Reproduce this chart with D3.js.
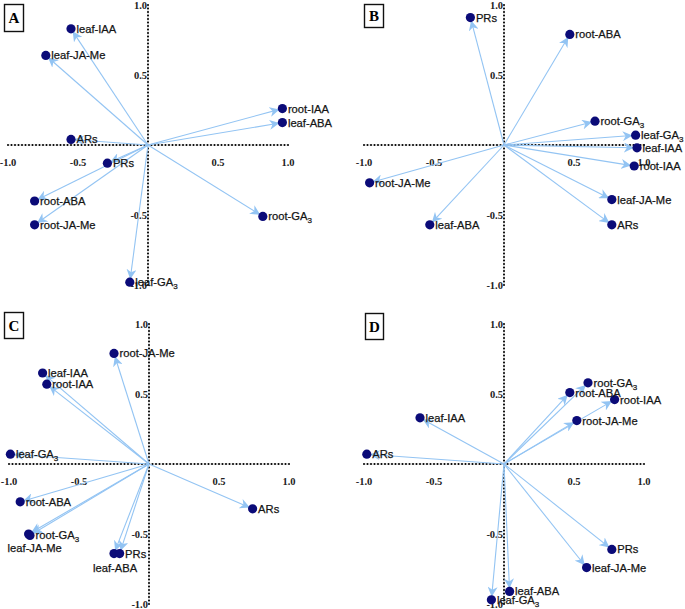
<!DOCTYPE html>
<html>
  <head>
    <style>
    body {
      margin: 0;
      background: #fff;
    }
    .lbl {
      font-family: "Liberation Sans", Arial, sans-serif;
      font-size: 11.2px;
      fill: #151515;
      stroke: #151515;
      stroke-width: 0.25px;
    }
    .tick {
      font-family: "Liberation Serif", "Times New Roman", serif;
      font-weight: bold;
      font-size: 10.5px;
      fill: #222;
    }
    </style>
  </head>
  <body>
    <script src="https://d3js.org/d3.v7.min.js"></script>
    <script>
    var width = 685, height = 609;

    // variable names in each panel
    var namesA = ["leaf-IAA", "leaf-JA-Me", "root-IAA", "leaf-ABA", "ARs", "PRs", "root-ABA", "root-JA-Me", "root-GA3", "leaf-GA3"];
    var xA = [-0.55, -0.73, 0.96, 0.96, -0.55, -0.29, -0.81, -0.81, 0.82, -0.13];
    var yA = [0.83, 0.64, 0.26, 0.16, 0.04, -0.13, -0.40, -0.57, -0.51, -0.98];

    var namesB = ["PRs", "root-ABA", "root-GA3", "leaf-GA3", "leaf-IAA", "root-IAA", "leaf-JA-Me", "ARs", "root-JA-Me", "leaf-ABA"];
    var xB = [-0.24, 0.47, 0.65, 0.94, 0.95, 0.93, 0.77, 0.77, -0.96, -0.53];
    var yB = [0.91, 0.79, 0.17, 0.07, -0.02, -0.15, -0.39, -0.57, -0.27, -0.57];

    var namesC = ["root-JA-Me", "leaf-IAA", "root-IAA", "leaf-GA3", "root-ABA", "leaf-JA-Me", "root-GA3", "leaf-ABA", "PRs", "ARs"];
    var xC = [-0.25, -0.76, -0.73, -0.99, -0.92, -0.86, -0.85, -0.25, -0.21, 0.74];
    var yC = [0.79, 0.65, 0.57, 0.07, -0.27, -0.50, -0.51, -0.64, -0.64, -0.32];

    var namesD = ["root-GA3", "root-ABA", "root-IAA", "root-JA-Me", "leaf-IAA", "ARs", "PRs", "leaf-JA-Me", "leaf-ABA", "leaf-GA3"];
    var xD = [0.60, 0.47, 0.79, 0.52, -0.60, -0.98, 0.77, 0.59, 0.04, -0.09];
    var yD = [0.58, 0.51, 0.46, 0.31, 0.33, 0.07, -0.61, -0.74, -0.91, -0.97];

    var tickValues = [-1.0, -0.5, 0.5, 1.0];
    var tickLabels = ["-1.0", "-0.5", "0.5", "1.0"];

    // labels written under the point instead of to its right
    var belowLabels = {C: ["leaf-JA-Me", "leaf-ABA"]};

    var svg = d3.select("body").append("svg")
        .attr("width", width)
        .attr("height", height);

    svg.append("defs").append("marker")
        .attr("id", "head")
        .attr("viewBox", "0 0 10 10")
        .attr("refX", 9)
        .attr("refY", 5)
        .attr("markerWidth", 10)
        .attr("markerHeight", 10)
        .attr("markerUnits", "userSpaceOnUse")
        .attr("orient", "auto")
      .append("path")
        .attr("d", "M0,0 L10,5 L0,10 L3,5 Z")
        .attr("fill", "#93c4f3");

    drawPanel("A", 148, 145, [4, 4, 19, 27], namesA, xA, yA);
    drawPanel("B", 504, 145, [364, 4, 19, 23], namesB, xB, yB);
    drawPanel("C", 149, 464, [4, 312, 19, 26], namesC, xC, yC);
    drawPanel("D", 504, 464, [365, 313, 18, 26], namesD, xD, yD);

    function drawPanel(letter, cx, cy, box, names, xs, ys){
      var x = d3.scaleLinear().domain([-1, 1]).range([cx - 140, cx + 140]);
      var y = d3.scaleLinear().domain([-1, 1]).range([cy + 140, cy - 140]);
      var g = svg.append("g");

      // letter box
      g.append("rect")
          .attr("x", box[0] + 0.5).attr("y", box[1] + 0.5)
          .attr("width", box[2]).attr("height", box[3])
          .attr("fill", "#fff").attr("stroke", "#111").attr("stroke-width", 1.4);
      g.append("text")
          .attr("x", box[0] + box[2] / 2 + 0.5)
          .attr("y", box[1] + box[3] / 2 + 5.5)
          .attr("text-anchor", "middle")
          .style("font-family", "'Liberation Serif', serif")
          .style("font-weight", "bold")
          .style("font-size", "15px")
          .text(letter);

      // axes: faint line with dense black ticks
      var minor = d3.range(-1, 1.0001, 0.025);
      g.append("line")
          .attr("x1", x(-1)).attr("x2", x(1))
          .attr("y1", y(0)).attr("y2", y(0))
          .attr("stroke", "#bbb").attr("stroke-width", 0.8);
      g.append("line")
          .attr("x1", x(0)).attr("x2", x(0))
          .attr("y1", y(-1)).attr("y2", y(1))
          .attr("stroke", "#bbb").attr("stroke-width", 0.8);
      g.selectAll(".hx").data(minor).enter().append("rect")
          .attr("x", function(d){ return x(d) - 0.8; })
          .attr("y", y(0) - 1)
          .attr("width", 1.6).attr("height", 2)
          .attr("fill", "#111");
      g.selectAll(".vy").data(minor).enter().append("rect")
          .attr("x", x(0) - 1)
          .attr("y", function(d){ return y(d) - 0.8; })
          .attr("width", 2).attr("height", 1.6)
          .attr("fill", "#111");

      g.selectAll(".tx").data(tickValues).enter().append("text")
          .attr("class", "tick")
          .attr("x", function(d){ return x(d); })
          .attr("y", y(0) + 21)
          .attr("text-anchor", "middle")
          .text(function(d, i){ return tickLabels[i]; });
      g.selectAll(".ty").data(tickValues).enter().append("text")
          .attr("class", "tick")
          .attr("x", x(0) - 1)
          .attr("y", function(d){ return y(d) + 4; })
          .attr("text-anchor", "end")
          .text(function(d, i){ return tickLabels[i]; });

      // arrows from origin, stopping at the dot edge
      g.selectAll(".arrow").data(names).enter().append("line")
          .attr("x1", x(0)).attr("y1", y(0))
          .attr("x2", function(d, i){ return x(0) + shrink(x(xs[i]) - x(0), y(ys[i]) - y(0))[0]; })
          .attr("y2", function(d, i){ return y(0) + shrink(x(xs[i]) - x(0), y(ys[i]) - y(0))[1]; })
          .attr("stroke", "#93c4f3")
          .attr("stroke-width", 1.1)
          .attr("marker-end", "url(#head)");

      g.selectAll(".dot").data(names).enter().append("circle")
          .attr("cx", function(d, i){ return x(xs[i]); })
          .attr("cy", function(d, i){ return y(ys[i]); })
          .attr("r", 4.6)
          .attr("fill", "#0b0b78");

      var below = belowLabels[letter] || [];
      var lab = g.selectAll(".lbl").data(names).enter().append("text")
          .attr("class", "lbl")
          .attr("x", function(d, i){ return x(xs[i]) + (below.indexOf(d) >= 0 ? -21 : 5.5); })
          .attr("y", function(d, i){ return y(ys[i]) + (below.indexOf(d) >= 0 ? 18 : 4); });
      lab.each(function(d){
        var t = d3.select(this);
        if (d.slice(-3) === "GA3") {
          t.append("tspan").text(d.slice(0, -1));
          t.append("tspan").attr("dy", 3).style("font-size", "8px").text("3");
        } else {
          t.text(d);
        }
      });
    }

    function shrink(dx, dy){
      var l = Math.sqrt(dx * dx + dy * dy), k = (l - 4) / l;
      return [dx * k, dy * k];
    }
    </script>
  </body>
</html>
